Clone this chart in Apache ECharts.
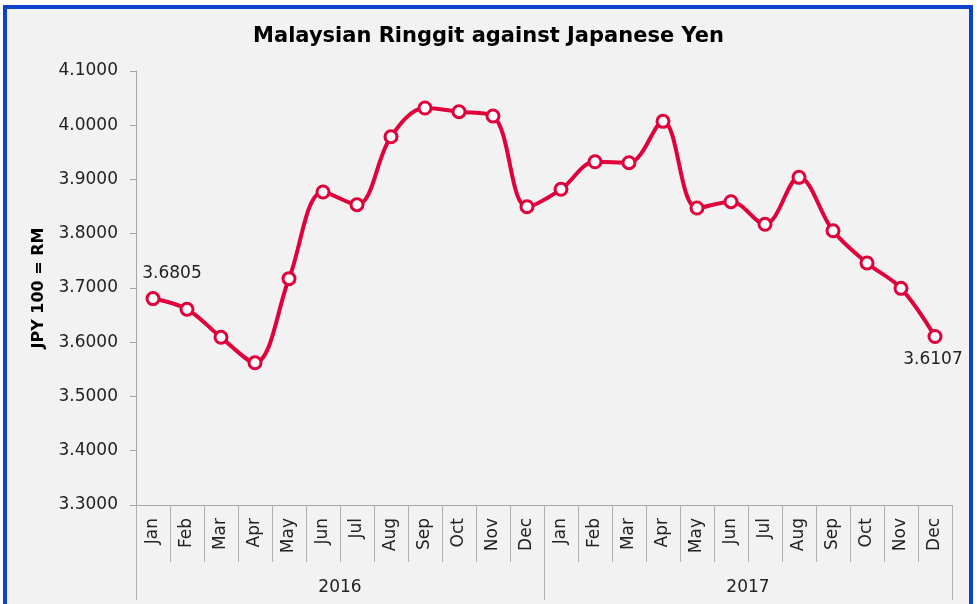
<!DOCTYPE html>
<html>
<head>
<meta charset="utf-8">
<script src="https://cdn.jsdelivr.net/npm/echarts@6/dist/echarts.min.js"></script>
<style>
  html, body { margin: 0; padding: 0; background: #ffffff; }
  #chart { width: 977px; height: 604px; }
</style>
</head>
<body>
<div id="chart"></div>
<script>
// month labels for the lower axis level
const months = ['Jan', 'Feb', 'Mar', 'Apr', 'May', 'Jun', 'Jul', 'Aug', 'Sep', 'Oct', 'Nov', 'Dec',
  'Jan', 'Feb', 'Mar', 'Apr', 'May', 'Jun', 'Jul', 'Aug', 'Sep', 'Oct', 'Nov', 'Dec'];
const years = ['2016', '2017'];

// RM per JPY 100 (first and last are labelled)
const rates = [3.6805, 3.6607, 3.6091, 3.5623, 3.7172, 3.8770, 3.8536, 3.9789, 4.0318, 4.0250, 4.0170, 3.8499,
  3.8819, 3.9328, 3.9310, 4.0072, 3.8475, 3.8591, 3.8174, 3.9040, 3.8056, 3.7461, 3.6994, 3.6107];

const yTicks = { min: 3.3, max: 4.1, step: 0.1 };

const lineColor = '#e0003a';
const font = '"DejaVu Sans", sans-serif';

const chart = echarts.init(document.getElementById('chart'));

// only the first and last points carry a value label
const seriesData = rates.map((v, i) => {
  if (i === 0) {
    return { value: v, label: { show: true, position: 'top', offset: [19, -4] } };
  }
  if (i === rates.length - 1) {
    return { value: v, label: { show: true, position: 'bottom', offset: [-2, 2] } };
  }
  return v;
});

const option = {
  backgroundColor: '#ffffff',
  animation: false,
  graphic: [{
    type: 'rect',
    z: -10,
    shape: { x: 5, y: 7, width: 966, height: 620 },
    style: { fill: '#f2f2f2', stroke: '#0b44cc', lineWidth: 4 }
  }],
  title: {
    text: 'Malaysian Ringgit against Japanese Yen',
    left: 'center',
    top: 21,
    textStyle: { fontFamily: font, fontSize: 21, fontWeight: 'bold', color: '#000' }
  },
  grid: { left: 136, right: 25, top: 71, bottom: 99 },
  xAxis: [
    {
      type: 'category',
      data: months,
      boundaryGap: true,
      axisLine: { lineStyle: { color: '#a6a6a6', width: 1 } },
      axisTick: { show: true, interval: 0, length: 57, lineStyle: { color: '#b0b0b0' } },
      axisLabel: { interval: 0, rotate: 90, margin: 13, fontFamily: font, fontSize: 17, color: '#222' }
    },
    {
      type: 'category',
      data: years,
      position: 'bottom',
      boundaryGap: true,
      axisLine: { show: false },
      axisTick: { show: true, interval: 0, length: 95, lineStyle: { color: '#b0b0b0' } },
      axisLabel: { interval: 0, margin: 74, fontFamily: font, fontSize: 17, color: '#222' }
    }
  ],
  yAxis: {
    type: 'value',
    min: yTicks.min,
    max: yTicks.max,
    interval: yTicks.step,
    name: 'JPY 100 = RM',
    nameLocation: 'middle',
    nameGap: 89,
    nameRotate: 90,
    nameTextStyle: { fontFamily: font, fontSize: 16, fontWeight: 'bold', color: '#000' },
    axisLine: { show: true, lineStyle: { color: '#a6a6a6' } },
    axisTick: { show: true, length: 6, lineStyle: { color: '#a6a6a6' } },
    splitLine: { show: false },
    axisLabel: {
      margin: 18,
      fontFamily: font,
      fontSize: 17,
      color: '#222',
      formatter: v => v.toFixed(4)
    }
  },
  series: [{
    type: 'line',
    data: seriesData,
    xAxisIndex: 0,
    smooth: 0.35,
    symbol: 'circle',
    symbolSize: 12,
    lineStyle: { color: lineColor, width: 4 },
    itemStyle: { color: '#ffffff', borderColor: lineColor, borderWidth: 3 },
    label: {
      show: false,
      fontFamily: font,
      fontSize: 17,
      color: '#222',
      formatter: p => p.value.toFixed(4)
    }
  }]
};

chart.setOption(option);
</script>
</body>
</html>
